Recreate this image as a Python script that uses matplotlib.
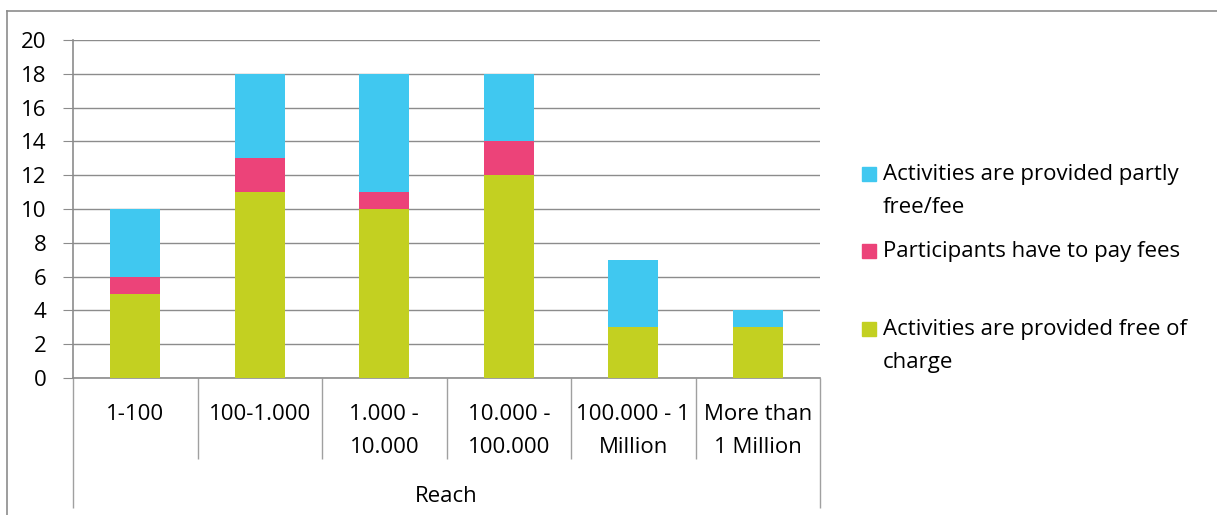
import matplotlib
matplotlib.use("Agg")
import matplotlib.pyplot as plt
from matplotlib.lines import Line2D
from matplotlib.patches import Rectangle
import numpy as np

plt.rcParams['font.family'] = ['Open Sans', 'DejaVu Sans']

categories = ["1-100", "100-1.000", "1.000 -\n10.000", "10.000 -\n100.000",
              "100.000 - 1\nMillion", "More than\n1 Million"]
free_of_charge = [5, 11, 10, 12, 3, 3]
pay_fees = [1, 2, 1, 2, 0, 0]
partly_free = [4, 5, 7, 4, 4, 1]

series = [
    ("Activities are provided free of\ncharge", free_of_charge, "#C3D021"),
    ("Participants have to pay fees", pay_fees, "#EC4379"),
    ("Activities are provided partly\nfree/fee", partly_free, "#40C8F0"),
]

FS = 16
LS = 1.72

W, H = 1217, 515
fig = plt.figure(figsize=(W / 100, H / 100), dpi=100)
ax = fig.add_axes([73 / W, (H - 378) / H, 747 / W, 338 / H])

x = np.arange(len(categories))
bottom = np.zeros(len(categories))
for name, vals, col in series:
    ax.bar(x, vals, width=0.4, bottom=bottom, color=col, zorder=3)
    bottom += np.array(vals)

grid_col = "#8C8C8C"
ax.set_xlim(-0.5, len(categories) - 0.5)
ax.set_ylim(0, 20)
ax.set_yticks(range(0, 21, 2))
ax.yaxis.grid(True, color=grid_col, linewidth=1)
ax.set_axisbelow(True)
ax.tick_params(axis='y', length=7, color=grid_col, labelsize=FS, pad=12)
ax.set_xticks([])
for s in ("top", "right"):
    ax.spines[s].set_visible(False)
for s in ("left", "bottom"):
    ax.spines[s].set_color(grid_col)
    ax.spines[s].set_linewidth(1.2)

# category separators below the axis, with the outer bracket for the group
tr = ax.get_xaxis_transform()
ax.vlines(np.arange(0.5, len(categories) - 1), 0, -81 / 338, transform=tr,
          color="#A0A0A0", linewidth=1, clip_on=False)
ax.vlines([-0.5, len(categories) - 0.5], 0, -130 / 338, transform=tr,
          color="#A0A0A0", linewidth=1, clip_on=False)

for xi, lab in zip(x, categories):
    ax.text(xi, -26 / 338, lab, transform=tr, ha='center', va='top',
            fontsize=FS, linespacing=LS)
ax.text((len(categories) - 1) / 2, -118 / 338, "Reach", transform=tr,
        ha='center', va='center', fontsize=FS)

# legend, top-aligned entries like the spreadsheet layout
leg_y = [174, 251, 329]
for (name, vals, col), yy in zip(series[::-1], leg_y):
    fig.patches.append(Rectangle((862 / W, 1 - (yy + 7) / H), 14 / W, 14 / H,
                                 transform=fig.transFigure, color=col))
    fig.text(883 / W, 1 - (yy - 10) / H, name, ha='left', va='top',
             fontsize=FS, linespacing=LS)

# outer frame of the chart object
fig.lines.append(Line2D([7 / W, 1], [1 - 11 / H, 1 - 11 / H],
                        transform=fig.transFigure, color="#8C8C8C", linewidth=1.2))
fig.lines.append(Line2D([7 / W, 7 / W], [0, 1 - 11 / H],
                        transform=fig.transFigure, color="#8C8C8C", linewidth=1.2))

fig.savefig("out.png", dpi=100)
